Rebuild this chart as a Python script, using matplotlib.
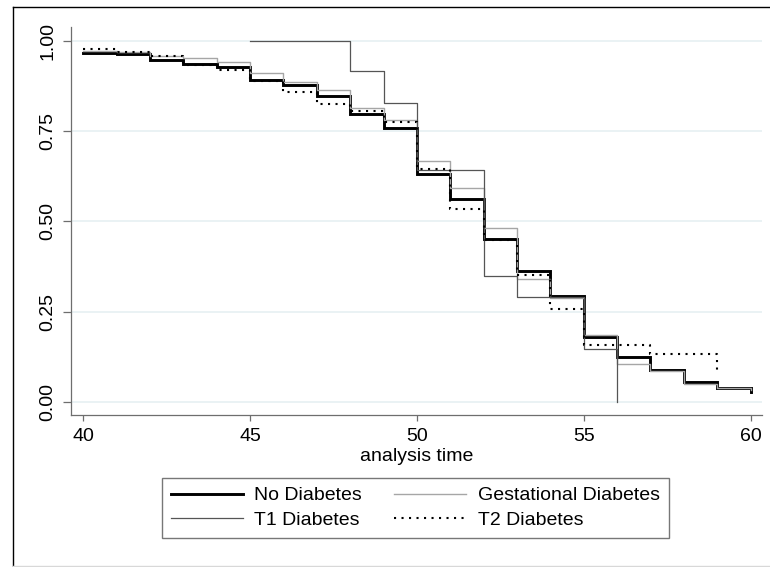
import matplotlib
matplotlib.use("Agg")
import matplotlib.pyplot as plt
from matplotlib.lines import Line2D

# ---- data (Kaplan-Meier style step estimates) ----
no_diab_t = [40, 41, 42, 43, 44, 45, 46, 47, 48, 49, 50, 51, 52, 53, 54, 55, 56, 57, 58, 59, 60]
no_diab_s = [0.967, 0.964, 0.948, 0.937, 0.928, 0.891, 0.877, 0.847, 0.796, 0.758,
             0.630, 0.561, 0.450, 0.363, 0.294, 0.179, 0.125, 0.088, 0.056, 0.040, 0.028]

gest_t = [40, 41, 42, 43, 44, 45, 46, 47, 48, 49, 50, 51, 52, 53, 54, 55, 56, 57, 58, 59, 60]
gest_s = [0.971, 0.969, 0.958, 0.951, 0.942, 0.910, 0.886, 0.864, 0.813, 0.780,
          0.667, 0.593, 0.483, 0.340, 0.289, 0.185, 0.105, 0.085, 0.051, 0.040, 0.033]

t1_t = [45, 48, 49, 50, 52, 53, 55, 56]
t1_s = [1.000, 0.917, 0.827, 0.642, 0.349, 0.291, 0.146, 0.000]

t2_t = [40, 41, 42, 43, 44, 45, 46, 47, 48, 49, 50, 51, 52, 53, 54, 55, 57, 59]
t2_s = [0.976, 0.970, 0.958, 0.933, 0.919, 0.890, 0.859, 0.824, 0.805, 0.774,
        0.645, 0.534, 0.448, 0.351, 0.257, 0.157, 0.132, 0.088]

labels = ["No Diabetes", "Gestational Diabetes", "T1 Diabetes", "T2 Diabetes"]
xticks = [40, 45, 50, 55, 60]
yticks = [0.0, 0.25, 0.5, 0.75, 1.0]
ytick_labels = ["0.00", "0.25", "0.50", "0.75", "1.00"]
xlabel = "analysis time"

plt.rcParams['font.family'] = ['Liberation Sans', 'DejaVu Sans']

W, H = 770, 567
fig = plt.figure(figsize=(W / 100, H / 100), dpi=100)
fig.patch.set_facecolor('white')

ax = fig.add_axes([71 / W, 1 - 415 / H, (761.5 - 71) / W, (415 - 27) / H])
ax.set_facecolor('white')

ppx = (750.5 - 83.3) / 20
ax.set_xlim(40 - (83.3 - 71) / ppx, 60 + (761.5 - 750.5) / ppx)
ppy = (402.0 - 40.8)
ax.set_ylim(-(415 - 402.0) / ppy, 1 + (40.8 - 27) / ppy)

for yv in yticks:
    ax.axhline(yv, color='#e6f0f2', lw=1.2, zorder=0)

l_no, = ax.step(no_diab_t, no_diab_s, where='post', color='black', lw=2.1,
                solid_joinstyle='miter', zorder=3)
l_gest, = ax.step(gest_t, gest_s, where='post', color='#a6a6a6', lw=1.0, zorder=4)
l_t1, = ax.step(t1_t, t1_s, where='post', color='#555555', lw=0.9, zorder=5)
l_t2, = ax.step(t2_t, t2_s, where='post', color='black', lw=1.5,
                linestyle=(0, (1, 2.6)), dash_capstyle='butt', zorder=6)

for s in ['top', 'right']:
    ax.spines[s].set_visible(False)
for s in ['left', 'bottom']:
    ax.spines[s].set_color('#6e6e6e')
    ax.spines[s].set_linewidth(0.9)

ax.set_xticks(xticks)
ax.set_xticklabels([str(x) for x in xticks])
ax.set_yticks(yticks)
ax.set_yticklabels(ytick_labels, rotation=90, va='center')
ax.tick_params(axis='both', colors='#6e6e6e', labelcolor='black', labelsize=14,
               width=0.9)
ax.tick_params(axis='x', length=4.5, pad=5)
ax.tick_params(axis='y', length=5.5, pad=5)
ax.set_xlabel(xlabel, fontsize=14, labelpad=2)

leg = fig.legend([l_no, l_t1, l_gest, l_t2],
                 [labels[0], labels[2], labels[1], labels[3]],
                 ncol=2, loc='upper left',
                 bbox_to_anchor=(162 / W, 1 - 478 / H),
                 frameon=True, fancybox=False, fontsize=14,
                 handlelength=3.7, handletextpad=0.6, columnspacing=1.65,
                 borderpad=0.45, labelspacing=0.35, borderaxespad=0)
leg.get_frame().set_edgecolor('#555555')
leg.get_frame().set_linewidth(1.0)

# outer frame
fig.add_artist(Line2D([13 / W, 13 / W], [0, 1 - 7 / H], color='black', lw=1.0,
                      transform=fig.transFigure))
fig.add_artist(Line2D([13 / W, 1], [1 - 7 / H, 1 - 7 / H], color='black', lw=1.0,
                      transform=fig.transFigure))
fig.add_artist(Line2D([13 / W, 1], [1 - 566 / H, 1 - 566 / H], color='#d8d8d8', lw=1.0,
                      transform=fig.transFigure))

fig.savefig("out.png", dpi=100, facecolor='white')
